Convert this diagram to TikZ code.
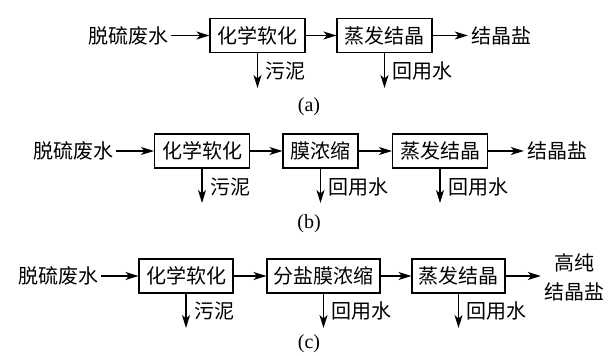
\documentclass[tikz,border=0pt]{standalone}
\usepackage{fontspec}
\newfontfamily\cjk{Noto Sans CJK SC}
\setmainfont{Liberation Serif}
\usetikzlibrary{arrows.meta}
\begin{document}
\begin{tikzpicture}[x=1pt,y=-1pt,
  box/.style={draw, line width=1.1pt, minimum height=34pt, inner sep=0pt, font=\cjk\fontsize{20}{22}\selectfont},
  lab/.style={inner sep=3pt, font=\cjk\fontsize{20}{22}\selectfont},
  sublab/.style={inner sep=0pt, font=\fontsize{20}{22}\selectfont},
  arr/.style={-{Stealth[length=13pt,width=8pt,inset=3.5pt]}, line width=1.2pt}]
\useasboundingbox (0,0) rectangle (616,356);
% row (a)
\node[lab] (ia) at (128,35.5) {脱硫废水};
\node[box, minimum width=95pt] (a1) at (257.5,35.5) {化学软化};
\node[box, minimum width=95pt] (a2) at (384.5,35.5) {蒸发结晶};
\node[lab] (oa) at (501,35.5) {结晶盐};
\coordinate (da1) at (257.5,88);
\coordinate (da2) at (384.5,88);
\node[lab, anchor=west] (la1) at (262,71) {污泥};
\node[lab, anchor=west] (la2) at (389,71) {回用水};
\draw[arr] (ia) -- (a1);
\draw[arr] (a1) -- (a2);
\draw[arr] (a2) -- (oa);
\draw[arr] (a1.south) -- (da1);
\draw[arr] (a2.south) -- (da2);
\node[sublab] (capa) at (309,107) {(a)};
% row (b)
\node[lab] (ib) at (73,151) {脱硫废水};
\node[box, minimum width=95pt] (b1) at (202,151) {化学软化};
\node[box, minimum width=75pt] (b2) at (320.5,151) {膜浓缩};
\node[box, minimum width=95pt] (b3) at (440,151) {蒸发结晶};
\node[lab] (ob) at (557,151) {结晶盐};
\coordinate (db1) at (202,203);
\coordinate (db2) at (320.5,203);
\coordinate (db3) at (440,203);
\node[lab, anchor=west] (lb1) at (207,187) {污泥};
\node[lab, anchor=west] (lb2) at (325.5,187) {回用水};
\node[lab, anchor=west] (lb3) at (445,187) {回用水};
\draw[arr] (ib) -- (b1);
\draw[arr] (b1) -- (b2);
\draw[arr] (b2) -- (b3);
\draw[arr] (b3) -- (ob);
\draw[arr] (b1.south) -- (db1);
\draw[arr] (b2.south) -- (db2);
\draw[arr] (b3.south) -- (db3);
\node[sublab] (capb) at (309,224) {(b)};
% row (c)
\node[lab] (ic) at (58,276) {脱硫废水};
\node[box, minimum width=94pt] (c1) at (186,276) {化学软化};
\node[box, minimum width=113pt] (c2) at (323.5,276) {分盐膜浓缩};
\node[box, minimum width=93pt] (c3) at (458.5,276) {蒸发结晶};
\node[lab, align=center, font=\cjk\fontsize{20}{29}\selectfont] (oc) at (574,277) {高纯\\结晶盐};
\coordinate (dc1) at (186,328);
\coordinate (dc2) at (323.5,328);
\coordinate (dc3) at (458.5,328);
\node[lab, anchor=west] (lc1) at (191,311) {污泥};
\node[lab, anchor=west] (lc2) at (328.5,311) {回用水};
\node[lab, anchor=west] (lc3) at (463.5,311) {回用水};
\draw[arr] (ic) -- (c1);
\draw[arr] (c1) -- (c2);
\draw[arr] (c2) -- (c3);
\draw[arr] (c3) -- (oc.west |- c3);
\draw[arr] (c1.south) -- (dc1);
\draw[arr] (c2.south) -- (dc2);
\draw[arr] (c3.south) -- (dc3);
\node[sublab] (capc) at (309,344) {(c)};
\end{tikzpicture}
\end{document}
